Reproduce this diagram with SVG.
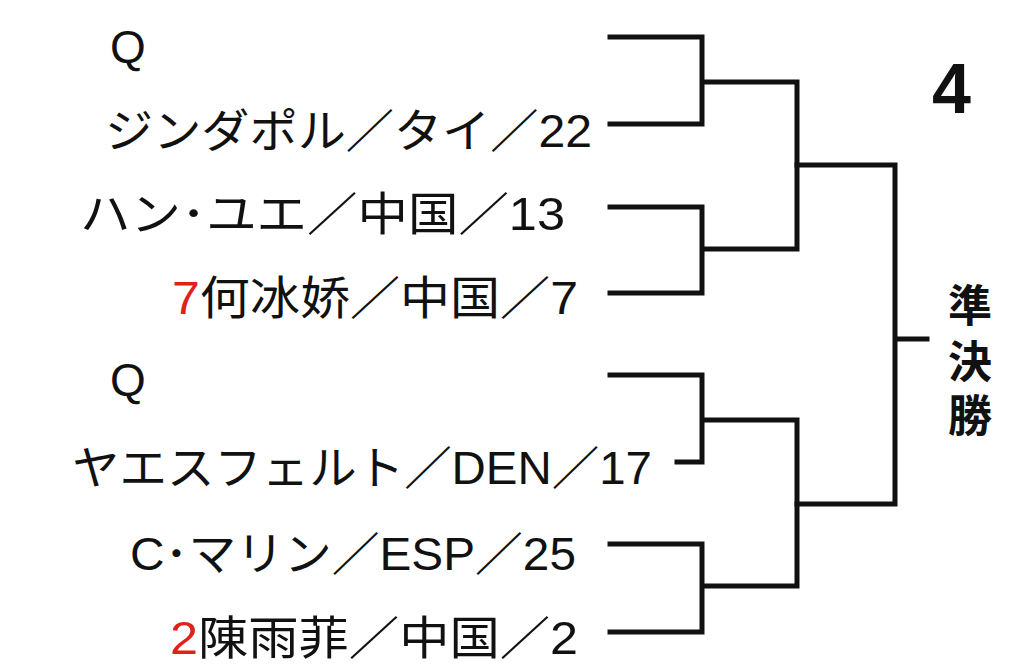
<svg xmlns="http://www.w3.org/2000/svg" width="1024" height="668" viewBox="0 0 1024 668">
<style>
.t{font-family:"Liberation Sans","Noto Sans CJK JP",sans-serif;font-size:46px;fill:#111}
.r{fill:#e0201a}
.b{font-weight:bold;font-size:44px}
.c{fill:none;stroke:#111;stroke-width:5;stroke-linecap:square}
</style>
<rect width="1024" height="668" fill="#fff"/>
<g id="n1"><text class="t" x="110" y="63">Q</text></g>
<g id="n2"><text class="t" x="105" y="147" textLength="487" lengthAdjust="spacingAndGlyphs">ジンダポル／タイ／22</text></g>
<g id="n3"><text class="t" x="80" y="230" textLength="485" lengthAdjust="spacingAndGlyphs">ハン･ユエ／中国／13</text></g>
<g id="n4"><text class="t" x="172" y="314" textLength="406" lengthAdjust="spacingAndGlyphs"><tspan class="r">7</tspan>何冰娇／中国／7</text></g>
<g id="n5"><text class="t" x="110" y="396">Q</text></g>
<g id="n6"><text class="t" x="72" y="484" textLength="580" lengthAdjust="spacingAndGlyphs">ヤエスフェルト／DEN／17</text></g>
<g id="n7"><text class="t" x="130" y="570" textLength="446" lengthAdjust="spacingAndGlyphs">C･マリン／ESP／25</text></g>
<g id="n8"><text class="t" x="170" y="654" textLength="408" lengthAdjust="spacingAndGlyphs"><tspan class="r">2</tspan>陳雨菲／中国／2</text></g>
<g id="num"><text class="t" x="932" y="113" style="font-size:70px;font-weight:bold">4</text></g>
<g id="sf"><text class="t b" x="970" y="322" text-anchor="middle">準</text><text class="t b" x="970" y="378" text-anchor="middle">決</text><text class="t b" x="970" y="432" text-anchor="middle">勝</text></g>
<g id="connectors">
<path class="c" d="M610 37H702V124H610M702 82H797V249H702M610 207H702V293H610"/>
<path class="c" d="M797 165H895V504H797M895 339H927"/>
<path class="c" d="M610 375H702V462H677M702 420H797V586H702M610 544H702V632H610"/>
</g>
</svg>
